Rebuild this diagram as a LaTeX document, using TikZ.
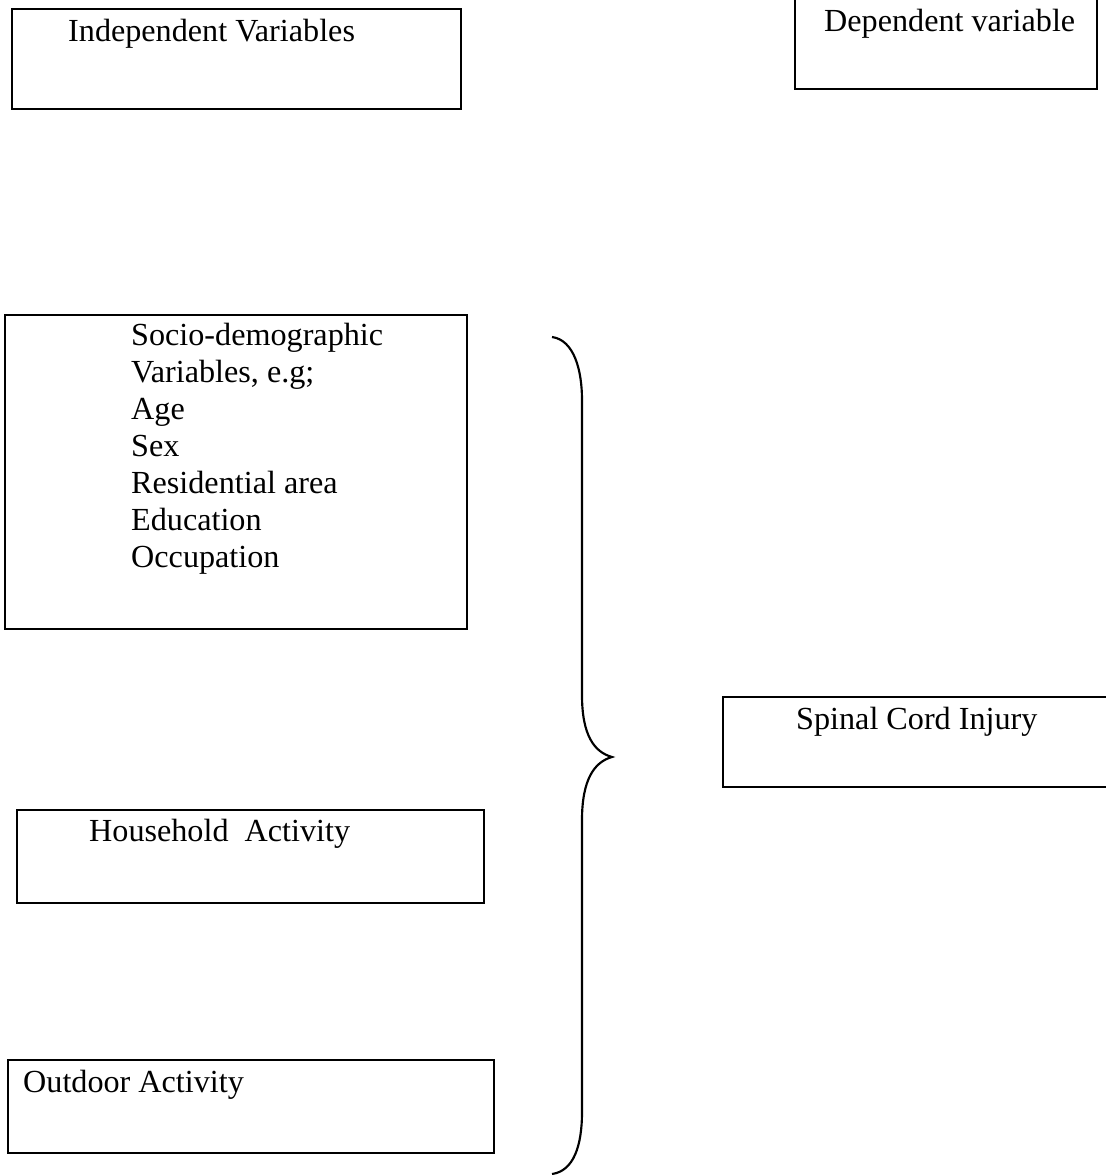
\documentclass[tikz,border=0pt]{standalone}
\usepackage{fontspec}
\setmainfont{Liberation Serif}
\usetikzlibrary{positioning}

\begin{document}
\begin{tikzpicture}[x=0.373pt,y=-0.373pt,line width=0.9pt,
  vbox/.style 2 args={draw,rectangle,anchor=north west,inner sep=0pt,
    minimum width=#1*0.373pt,minimum height=#2*0.373pt},
  vtext/.style={anchor=base west,inner sep=0pt,align=left,
    font=\fontsize{12}{13.8}\selectfont}]

  \useasboundingbox (0,0) rectangle (1105,1175);

  % headings
  \node[vbox={449}{100}] (indep) at (11,8) {};
  \node[vtext] (indeptext) at (67,41) {Independent Variables};
  \node[vbox={302}{93}] (dep) at (794,-5) {};
  \node[vtext] (deptext) at (823,31) {Dependent variable};

  % independent variables
  \node[vbox={462}{314}] (socio) at (4,314) {};
  \node[vtext] (sociotext) at (130,567) {Socio-demographic\\
    Variables, e.g;\\
    Age\\
    Sex\\
    Residential area\\
    Education\\
    Occupation};

  \node[vbox={467}{93}] (house) at (16,809) {};
  \node[vtext] (housetext) at (88,841) {Household~~Activity};

  \node[vbox={486}{93}] (outdoor) at (7,1059) {};
  \node[vtext] (outdoortext) at (22,1092) {Outdoor Activity};

  % dependent variable
  \node[vbox={388}{90}] (sci) at (722,696) {};
  \node[vtext] (scitext) at (795,729) {Spinal Cord Injury};

  % draw the brace
  \coordinate (btop) at (552,337);
  \coordinate (btip) at (612,757);
  \coordinate (bbot) at (552,1174);
  \draw[line width=0.8pt] (btop) .. controls (574,340) and (582,370) .. (582,400)
    -- (582,695) .. controls (582,735) and (594,752) .. (btip)
    .. controls (594,762) and (582,780) .. (582,820)
    -- (582,1112) .. controls (582,1145) and (574,1171) .. (bbot);

\end{tikzpicture}
\end{document}
